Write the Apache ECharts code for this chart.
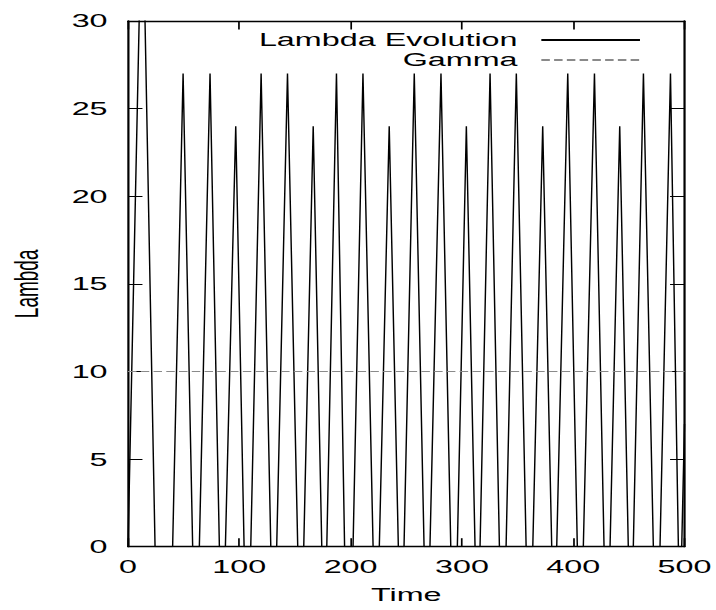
<!DOCTYPE html>
<html>
<head>
<meta charset="utf-8">
<script src="https://cdn.jsdelivr.net/npm/echarts@6/dist/echarts.min.js"></script>
<style>
html,body{margin:0;padding:0;background:#fff;}
#wrap{width:716px;height:610px;overflow:hidden;position:relative;}
#chart{width:421px;height:610px;transform-origin:0 0;}
</style>
</head>
<body>
<div id="wrap"><div id="chart"></div></div>
<script>
// ---- data ----
const lambdaTime = [0, 12.8, 24.3,
  40.1, 49.5, 58.1, 64.1, 73.7, 82.1, 87.5, 96.8, 104.3,
  110.3, 119.6, 128.3, 133.6, 143.3, 152.5, 157.9, 166.4, 174.1,
  178.6, 187.3, 194.6, 202.2, 211.1, 220.2, 225.8, 234.7, 242.9,
  248.0, 257.2, 266.0, 271.3, 281.2, 290.0, 295.9, 304.0, 311.8,
  316.3, 325.3, 333.7, 339.7, 348.9, 357.7, 363.7, 372.6, 380.7,
  385.2, 395.1, 403.7, 409.1, 419.1, 427.7, 433.1, 441.8, 449.5,
  454.0, 463.1, 472.0, 478.0, 487.4, 494.5, 497.5, 500];
const lambdaValue = [0, 38.3, 0,
  0, 27, 0, 0, 27, 0, 0, 24, 0,
  0, 27, 0, 0, 27, 0, 0, 24, 0,
  0, 27, 0, 0, 27, 0, 0, 24, 0,
  0, 27, 0, 0, 27, 0, 0, 24, 0,
  0, 27, 0, 0, 27, 0, 0, 24, 0,
  0, 27, 0, 0, 27, 0, 0, 24, 0,
  0, 27, 0, 0, 27, 0, 0, 7];
const gammaTime = [0, 500];
const gammaValue = [10, 10];
const seriesNames = ['Lambda Evolution', 'Gamma'];
const xTicks = [0, 100, 200, 300, 400, 500];
const yTicks = [0, 5, 10, 15, 20, 25, 30];

// ---- horizontal stretch of the reference ----
const S = 716 / 421;
document.getElementById('chart').style.transform = 'scaleX(' + S + ')';

const FONT = 'Liberation Sans, Arial, Helvetica, sans-serif';
const FS = 19;

const chart = echarts.init(document.getElementById('chart'), null, {renderer: 'svg'});

function xAxisCfg(pos, showLabel) {
  return {
    type: 'value', position: pos,
    min: xTicks[0], max: xTicks[xTicks.length - 1],
    interval: xTicks[1] - xTicks[0],
    name: showLabel ? 'Time' : '', nameLocation: 'middle', nameGap: 38,
    nameTextStyle: {fontFamily: FONT, fontSize: FS, color: '#000'},
    axisLine: {show: true, onZero: false, lineStyle: {color: '#000', width: 1.3}},
    axisTick: {show: true, inside: true, length: 8.5, lineStyle: {color: '#000', width: 1}},
    axisLabel: {show: showLabel, margin: 10, fontFamily: FONT, fontSize: FS, color: '#000'},
    splitLine: {show: false}
  };
}
function yAxisCfg(pos, showLabel) {
  return {
    type: 'value', position: pos,
    min: yTicks[0], max: yTicks[yTicks.length - 1],
    interval: yTicks[1] - yTicks[0],
    name: showLabel ? 'Lambda' : '', nameLocation: 'middle', nameGap: 50,
    nameTextStyle: {fontFamily: FONT, fontSize: FS, color: '#000'},
    axisLine: {show: true, onZero: false, lineStyle: {color: '#000', width: 1.3}},
    axisTick: {show: true, inside: true, length: 8.5, lineStyle: {color: '#000', width: 1}},
    axisLabel: {show: showLabel, margin: 12, fontFamily: FONT, fontSize: FS, color: '#000'},
    splitLine: {show: false}
  };
}

chart.setOption({
  animation: false,
  backgroundColor: '#fff',
  grid: {left: 128 / S, right: (716 - 684.5) / S, top: 21, bottom: 63.3,
         containLabel: false, outerBoundsMode: 'none'},
  legend: {
    orient: 'vertical', align: 'right',
    right: 43.7, top: 30, padding: 0,
    itemWidth: 58, itemHeight: 14, itemGap: 0,
    data: seriesNames,
    itemStyle: {opacity: 0},
    textStyle: {fontFamily: FONT, fontSize: FS, color: '#000', lineHeight: 20, padding: [0, 9, 0, 0]}
  },
  xAxis: [xAxisCfg('bottom', true), xAxisCfg('top', false)],
  yAxis: [yAxisCfg('left', true), yAxisCfg('right', false)],
  series: [
    {
      name: seriesNames[0], type: 'line', symbol: 'none',
      data: lambdaTime.map((t, i) => [t, lambdaValue[i]]),
      lineStyle: {color: '#000', width: 0.85},
      itemStyle: {color: '#000'},
      clip: true
    },
    {
      name: seriesNames[1], type: 'line', symbol: 'none',
      data: gammaTime.map((t, i) => [t, gammaValue[i]]),
      lineStyle: {color: '#8a8a8a', width: 1, type: [5, 2.5]},
      itemStyle: {color: '#8a8a8a'},
      clip: true
    }
  ]
});
</script>
</body>
</html>
